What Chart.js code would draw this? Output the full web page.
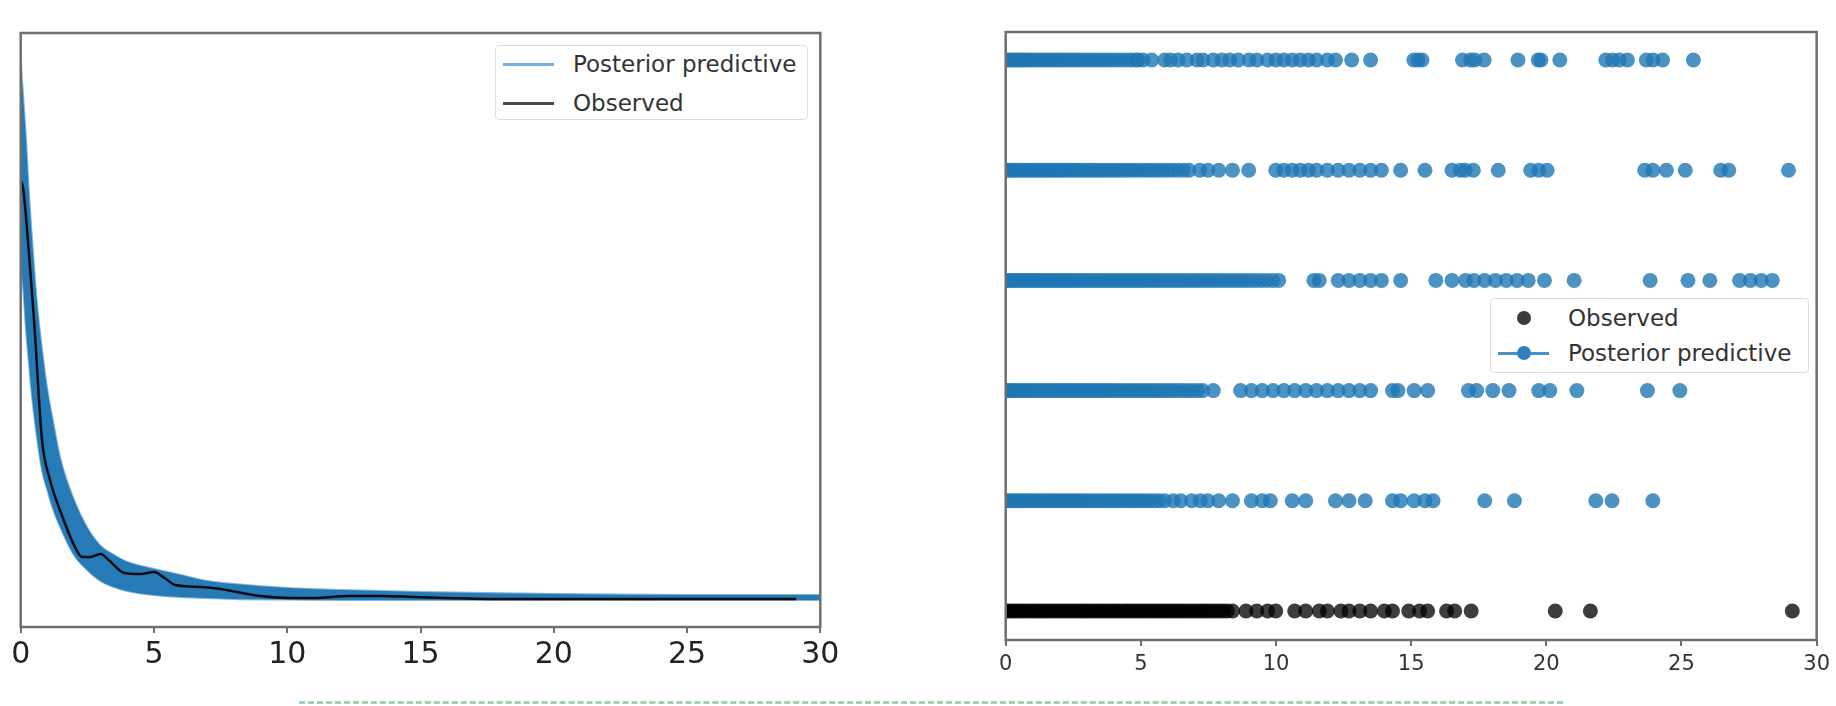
<!DOCTYPE html>
<html lang="en">
<head>
  <meta charset="UTF-8" />
  <title>Posterior predictive check</title>
  <style>
    body {
      margin: 0;
      width: 1836px;
      height: 706px;
      overflow: hidden;
      position: relative;
      background: #ffffff;
      font-family: 'DejaVu Sans', sans-serif;
    }

    .panel {
      position: absolute;
      top: 0;
      height: 706px;
    }

    #kdeBox { left: 0; width: 900px; }
    #scatterBox { left: 960px; width: 876px; }

    .legend {
      position: absolute;
      box-sizing: border-box;
      background: #ffffff;
      border: 1.5px solid #dedede;
      border-radius: 4px;
      color: #333;
      font-size: 23px;
      z-index: 2;
    }

    .legend .label {
      position: absolute;
      left: 77px;
      height: 28px;
      line-height: 28px;
      white-space: nowrap;
    }

    .legend .handle {
      position: absolute;
      left: 7px;
      width: 51px;
      height: 3px;
    }

    .legend .dot {
      position: absolute;
      width: 14px;
      height: 14px;
      border-radius: 50%;
    }

    .rule {
      position: absolute;
      left: 299px;
      top: 701px;
      width: 1264px;
      border-top: 3px dashed #9fd2b0;
    }
  </style>
</head>
<body>
  <div class="panel" id="kdeBox"><canvas id="kdeChart"></canvas></div>
  <div class="panel" id="scatterBox"><canvas id="scatterChart"></canvas></div>

  <div class="legend" id="kdeLegend" style="left:495px; top:45px; width:313px; height:75px;"></div>
  <div class="legend" id="scatterLegend" style="left:1490px; top:298px; width:319px; height:75px;"></div>

  <div class="rule"></div>

  <script src="https://cdn.jsdelivr.net/npm/chart.js"></script>
  <script>
    const ppLabel = 'Posterior predictive';
    const obsLabel = 'Observed';

    // left panel: density curves (x, density)
    const bandX = [0, 0.1, 0.2, 0.3, 0.4, 0.6, 0.8, 1.0, 1.2, 1.5, 2.0, 2.5, 3.0, 3.5, 4, 5, 6, 7, 8, 10, 12, 15, 20, 25, 30];
    const bandUpper = [0.54, 0.50, 0.46, 0.41, 0.37, 0.30, 0.25, 0.21, 0.18, 0.14, 0.10, 0.072, 0.054, 0.045, 0.038, 0.031, 0.025, 0.019, 0.016, 0.012, 0.010, 0.008, 0.006, 0.005, 0.005];
    const bandLower = [0.34, 0.31, 0.27, 0.24, 0.21, 0.165, 0.13, 0.11, 0.092, 0.072, 0.045, 0.03, 0.019, 0.013, 0.009, 0.005, 0.003, 0.002, 0.001, 0.0005, 0, 0, 0, 0, 0];

    const obsX = [0, 0.1, 0.3, 0.5, 0.8, 1.1, 1.5, 2.0, 2.3, 2.6, 3.0, 3.3, 3.9, 4.5, 5.0, 5.4, 5.8, 6.8, 7.5, 8.3, 9.0, 10.2, 11, 12.3, 13.5, 14.8, 16, 17.5, 20, 25, 29.1];
    const obsY = [0.42, 0.41, 0.35, 0.28, 0.16, 0.12, 0.088, 0.055, 0.043, 0.043, 0.046, 0.040, 0.027, 0.026, 0.028, 0.022, 0.015, 0.013, 0.011, 0.007, 0.004, 0.002, 0.002, 0.004, 0.004, 0.003, 0.002, 0.001, 0.001, 0.001, 0.001];

    // right panel: observed values and five posterior predictive draws
    const obsValues = [0.02, 0.12, 0.25, 0.37, 0.5, 0.62, 0.74, 0.87, 1.0, 1.12, 1.25, 1.38, 1.5, 1.63, 1.76, 1.88, 2.01, 2.14, 2.27, 2.4, 2.52, 2.65, 2.78, 2.9, 3.03, 3.16, 3.3, 3.43, 3.56, 3.69, 3.82, 3.95, 4.08, 4.21, 4.35, 4.48, 4.61, 4.74, 4.88, 5.01, 5.14, 5.28, 5.41, 5.55, 5.68, 5.81, 5.95, 6.08, 6.22, 6.36, 6.49, 6.63, 6.77, 6.91, 7.05, 7.19, 7.33, 7.47, 7.61, 7.76, 7.9, 8.05, 8.2, 8.39,
      8.89, 9.29, 9.69, 9.99, 10.69, 11.1, 11.6, 11.9, 12.4, 12.7, 13.1, 13.5, 14.01, 14.31, 14.91, 15.31, 15.61, 16.31, 16.61, 17.22, 20.33, 21.63, 29.1];
    const draw1 = [0.01, 0.11, 0.22, 0.33, 0.44, 0.55, 0.66, 0.78, 0.89, 1.0, 1.12, 1.24, 1.36, 1.48, 1.6, 1.72, 1.84, 1.97, 2.1, 2.22, 2.35, 2.48, 2.61, 2.74, 2.87, 3.01, 3.14, 3.28, 3.42, 3.56, 3.7, 3.84, 3.98, 4.13, 4.27, 4.42, 4.57, 4.72, 4.87, 5.02, 5.18, 5.34, 5.5, 5.68, 5.88,
      6.2, 6.48, 6.88, 7.2, 7.48, 7.88, 8.39, 9.09, 9.49, 9.79, 10.6, 11.1, 12.2, 12.7, 13.3, 14.31, 14.61, 15.11, 15.51, 15.81, 17.72, 18.82, 21.83, 22.43, 23.94];
    const draw2 = [0.01, 0.11, 0.22, 0.33, 0.44, 0.55, 0.67, 0.78, 0.9, 1.01, 1.13, 1.25, 1.37, 1.49, 1.61, 1.73, 1.86, 1.98, 2.11, 2.24, 2.37, 2.5, 2.63, 2.76, 2.9, 3.03, 3.17, 3.31, 3.45, 3.59, 3.73, 3.87, 4.02, 4.16, 4.31, 4.46, 4.61, 4.76, 4.91, 5.07, 5.22, 5.38, 5.54, 5.7, 5.86, 6.03, 6.2, 6.37, 6.55, 6.73, 6.91, 7.1, 7.28,
      7.68, 8.69, 9.09, 9.49, 9.89, 10.29, 10.69, 11.1, 11.5, 11.9, 12.3, 12.7, 13.1, 13.5, 14.31, 14.51, 15.11, 15.61, 17.12, 17.42, 18.02, 18.62, 19.72, 20.13, 21.13, 23.74, 24.94];
    const draw3 = [0.01, 0.11, 0.22, 0.33, 0.44, 0.55, 0.66, 0.77, 0.89, 1.0, 1.12, 1.23, 1.35, 1.47, 1.59, 1.71, 1.83, 1.95, 2.08, 2.2, 2.33, 2.45, 2.58, 2.71, 2.84, 2.97, 3.1, 3.23, 3.37, 3.5, 3.64, 3.77, 3.91, 4.05, 4.19, 4.33, 4.47, 4.61, 4.76, 4.9, 5.05, 5.2, 5.35, 5.5, 5.65, 5.8, 5.96, 6.11, 6.27, 6.43, 6.59, 6.75, 6.92, 7.08, 7.25, 7.42, 7.59, 7.76, 7.94, 8.12, 8.3, 8.48, 8.67, 8.86, 9.05, 9.25, 9.45, 9.66, 9.88, 10.1,
      11.4, 11.6, 12.3, 12.7, 13.1, 13.5, 13.9, 14.61, 15.91, 16.51, 17.01, 17.32, 17.72, 18.12, 18.52, 18.92, 19.33, 19.93, 21.03, 23.84, 25.24, 26.05, 27.15, 27.55, 27.95, 28.36];
    const draw4 = [0.01, 0.11, 0.22, 0.33, 0.44, 0.56, 0.67, 0.79, 0.9, 1.02, 1.14, 1.26, 1.38, 1.5, 1.63, 1.75, 1.88, 2.0, 2.13, 2.26, 2.39, 2.53, 2.66, 2.8, 2.94, 3.08, 3.22, 3.36, 3.51, 3.66, 3.81, 3.96, 4.11, 4.27, 4.43, 4.59, 4.75, 4.92, 5.09, 5.26, 5.44, 5.62, 5.8, 5.99, 6.18, 6.38, 6.58, 6.78,
      7.18, 7.48, 7.88, 8.39, 8.99, 9.99, 10.29, 10.6, 10.9, 11.2, 11.5, 11.9, 12.3, 12.7, 13.1, 13.5, 13.9, 14.61, 15.51, 16.51, 16.82, 17.0, 17.3, 18.22, 19.42, 19.72, 20.03, 23.64, 23.94, 24.44, 25.14, 26.45, 26.75, 28.96];
    const draw5 = [0.01, 0.11, 0.22, 0.33, 0.44, 0.55, 0.67, 0.78, 0.9, 1.02, 1.14, 1.26, 1.38, 1.51, 1.63, 1.76, 1.89, 2.02, 2.15, 2.29, 2.43, 2.57, 2.71, 2.85, 3.0, 3.15, 3.3, 3.45, 3.61, 3.77, 3.93, 4.1, 4.27, 4.45, 4.63, 4.81, 4.9,
      5.08, 5.4, 5.88, 6.1, 6.38, 6.7, 7.08, 7.3, 7.68, 8.0, 8.29, 8.6, 9.0, 9.29, 9.69, 10.0, 10.29, 10.6, 10.9, 11.2, 11.5, 11.9, 12.2, 12.8, 13.5, 15.1, 15.25, 15.4, 16.9, 17.2, 17.35, 17.7, 18.95, 19.7, 19.8, 20.5, 22.2, 22.45, 22.7, 23.0, 23.7, 23.95, 24.3, 25.44];
    const draws = [draw1, draw2, draw3, draw4, draw5];

    const xTicks = [0, 5, 10, 15, 20, 25, 30];

    const spine = '#6f6f6f';

    // box around the plotting area, like matplotlib spines
    const frame = {
      id: 'frame',
      afterDraw(chart) {
        const { ctx, chartArea: a } = chart;
        ctx.save();
        ctx.strokeStyle = spine;
        ctx.lineWidth = 2.5;
        ctx.strokeRect(a.left, a.top, a.right - a.left, a.bottom - a.top);
        ctx.restore();
      }
    };

    function xAxis(fontSize, pad, color) {
      return {
        type: 'linear',
        min: xTicks[0],
        max: xTicks[xTicks.length - 1],
        border: { display: false },
        grid: { display: true, drawOnChartArea: false, drawTicks: true, tickLength: 6, color: spine, lineWidth: 2 },
        afterBuildTicks: (scale) => { scale.ticks = xTicks.map(v => ({ value: v })); },
        ticks: { padding: pad, color: color, maxRotation: 0, font: { family: 'DejaVu Sans', size: fontSize } }
      };
    }

    function hiddenY(min, max) {
      return {
        min: min, max: max,
        ticks: { display: false },
        grid: { display: false, drawTicks: false },
        border: { display: false }
      };
    }

    const pts = (xs, ys) => xs.map((x, i) => ({ x: x, y: ys[i] }));

    new Chart(document.getElementById('kdeChart'), {
      type: 'line',
      data: {
        datasets: [
          {
            label: obsLabel,
            data: pts(obsX, obsY),
            borderColor: '#0b0b12',
            borderWidth: 2.5,
            pointRadius: 0,
            cubicInterpolationMode: 'monotone',
            fill: false,
            order: 0
          },
          {
            label: ppLabel,
            data: pts(bandX, bandUpper),
            borderColor: 'rgba(31,119,180,0.55)',
            borderWidth: 2,
            pointRadius: 0,
            cubicInterpolationMode: 'monotone',
            fill: '+1',
            backgroundColor: 'rgba(31,119,180,0.97)',
            order: 1
          },
          {
            label: ppLabel,
            data: pts(bandX, bandLower),
            borderColor: 'rgba(31,119,180,0.55)',
            borderWidth: 2,
            pointRadius: 0,
            cubicInterpolationMode: 'monotone',
            fill: false,
            order: 2
          }
        ]
      },
      options: {
        responsive: true,
        maintainAspectRatio: false,
        animation: false,
        events: [],
        layout: { padding: { left: 20.7, top: 33, right: 79.7, bottom: 29 } },
        scales: {
          x: xAxis(30, 4, '#222'),
          y: hiddenY(-0.027, 0.567)
        },
        plugins: { legend: { display: false }, tooltip: { enabled: false } }
      },
      plugins: [frame]
    });

    const scatterSets = [{
      label: obsLabel,
      data: obsValues.map(v => ({ x: v, y: 0 })),
      backgroundColor: 'rgba(0,0,0,0.76)',
      pointRadius: 7.5,
      pointBorderWidth: 0
    }];
    draws.forEach((d, i) => {
      scatterSets.push({
        label: ppLabel,
        data: d.map(v => ({ x: v, y: i + 1 })),
        backgroundColor: 'rgba(31,119,180,0.8)',
        pointRadius: 7.5,
        pointBorderWidth: 0
      });
    });

    new Chart(document.getElementById('scatterChart'), {
      type: 'scatter',
      data: { datasets: scatterSets },
      options: {
        responsive: true,
        maintainAspectRatio: false,
        animation: false,
        events: [],
        layout: { padding: { left: 45.7, top: 32, right: 14.3, bottom: 22.8 } },
        scales: {
          x: xAxis(21, 6, '#333'),
          y: hiddenY(-0.263, 5.254)
        },
        plugins: { legend: { display: false }, tooltip: { enabled: false } }
      },
      plugins: [frame]
    });

    // legends in the matplotlib style
    function addItem(box, centerY, text, handle) {
      const lbl = document.createElement('div');
      lbl.className = 'label';
      lbl.style.top = (centerY - 14) + 'px';
      lbl.textContent = text;
      box.appendChild(lbl);
      if (handle.line) {
        const h = document.createElement('div');
        h.className = 'handle';
        h.style.top = (centerY - 1.5) + 'px';
        h.style.background = handle.line;
        box.appendChild(h);
      }
      if (handle.dot) {
        const d = document.createElement('div');
        d.className = 'dot';
        d.style.left = '26px';
        d.style.top = (centerY - 7) + 'px';
        d.style.background = handle.dot;
        box.appendChild(d);
      }
    }

    const kdeLegend = document.getElementById('kdeLegend');
    addItem(kdeLegend, 18, ppLabel, { line: '#78b0dc' });
    addItem(kdeLegend, 57, obsLabel, { line: '#4a4a4a' });

    const scatterLegend = document.getElementById('scatterLegend');
    addItem(scatterLegend, 19, obsLabel, { dot: '#3c3c3c' });
    addItem(scatterLegend, 54, ppLabel, { line: '#4a90c8', dot: '#2f80bd' });
  </script>
</body>
</html>
